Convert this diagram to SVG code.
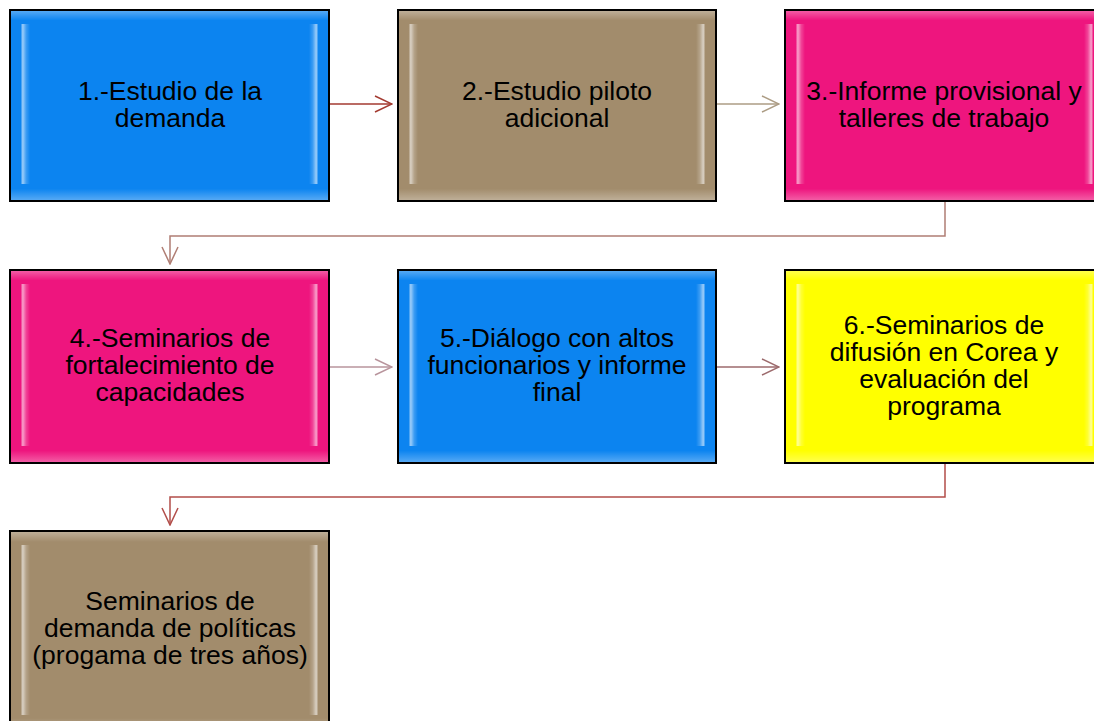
<svg xmlns="http://www.w3.org/2000/svg" width="1094" height="721" viewBox="0 0 1094 721">
<defs>
<style>
.box{stroke:#000;stroke-width:2}
.t{font-family:"Liberation Sans",Arial,sans-serif;font-size:26.5px;fill:#000;text-anchor:middle}
.blue{fill:#0C84F0}
.tan{fill:#A28C6C}
.pink{fill:#EE157E}
.yel{fill:#FFFF00}
.c{fill:none;stroke-width:1.5}
</style>
<linearGradient id="hl" x1="0" y1="0" x2="1" y2="0">
<stop offset="0" stop-color="#fff" stop-opacity="0"/>
<stop offset="0.03" stop-color="#fff" stop-opacity="0"/>
<stop offset="0.037" stop-color="#fff" stop-opacity="0.6"/>
<stop offset="0.048" stop-color="#fff" stop-opacity="0.2"/>
<stop offset="0.06" stop-color="#fff" stop-opacity="0"/>
<stop offset="0.94" stop-color="#fff" stop-opacity="0"/>
<stop offset="0.952" stop-color="#fff" stop-opacity="0.2"/>
<stop offset="0.963" stop-color="#fff" stop-opacity="0.6"/>
<stop offset="0.97" stop-color="#fff" stop-opacity="0"/>
<stop offset="1" stop-color="#fff" stop-opacity="0"/>
</linearGradient>
<linearGradient id="vb" x1="0" y1="0" x2="0" y2="1">
<stop offset="0" stop-color="#fff" stop-opacity="0.3"/>
<stop offset="0.05" stop-color="#fff" stop-opacity="0"/>
<stop offset="0.94" stop-color="#fff" stop-opacity="0"/>
<stop offset="1" stop-color="#fff" stop-opacity="0.3"/>
</linearGradient>
<marker id="ah1" viewBox="0 0 20 20" refX="19" refY="10" markerWidth="20" markerHeight="20" markerUnits="userSpaceOnUse" orient="auto">
<path d="M2,2 L19,10 L2,18" fill="none" stroke="#A33A30" stroke-width="1.5"/>
</marker>
<marker id="ah2" viewBox="0 0 20 20" refX="19" refY="10" markerWidth="20" markerHeight="20" markerUnits="userSpaceOnUse" orient="auto">
<path d="M2,2 L19,10 L2,18" fill="none" stroke="#AC9C84" stroke-width="1.5"/>
</marker>
<marker id="ah3" viewBox="0 0 20 20" refX="19" refY="10" markerWidth="20" markerHeight="20" markerUnits="userSpaceOnUse" orient="auto">
<path d="M2,2 L19,10 L2,18" fill="none" stroke="#B07E74" stroke-width="1.5"/>
</marker>
<marker id="ah4" viewBox="0 0 20 20" refX="19" refY="10" markerWidth="20" markerHeight="20" markerUnits="userSpaceOnUse" orient="auto">
<path d="M2,2 L19,10 L2,18" fill="none" stroke="#B8949C" stroke-width="1.5"/>
</marker>
<marker id="ah5" viewBox="0 0 20 20" refX="19" refY="10" markerWidth="20" markerHeight="20" markerUnits="userSpaceOnUse" orient="auto">
<path d="M2,2 L19,10 L2,18" fill="none" stroke="#9C6A6C" stroke-width="1.5"/>
</marker>
<marker id="ah6" viewBox="0 0 20 20" refX="19" refY="10" markerWidth="20" markerHeight="20" markerUnits="userSpaceOnUse" orient="auto">
<path d="M2,2 L19,10 L2,18" fill="none" stroke="#B24E4A" stroke-width="1.5"/>
</marker>
</defs>
<rect width="1094" height="721" fill="#fff"/>
<g id="connectors">
<line class="c" x1="330" y1="104" x2="392" y2="104" stroke="#A33A30" marker-end="url(#ah1)"/>
<line class="c" x1="717" y1="104" x2="779" y2="104" stroke="#AC9C84" marker-end="url(#ah2)"/>
<polyline class="c" points="945,202 945,236 170,236 170,264" stroke="#B07E74" marker-end="url(#ah3)"/>
<line class="c" x1="330" y1="367" x2="392" y2="367" stroke="#B8949C" marker-end="url(#ah4)"/>
<line class="c" x1="717" y1="367" x2="779" y2="367" stroke="#9C6A6C" marker-end="url(#ah5)"/>
<polyline class="c" points="945,464 945,497 170,497 170,525" stroke="#B24E4A" marker-end="url(#ah6)"/>
</g>
<g id="n1">
<rect class="box blue" x="10" y="10" width="319" height="191"/>
<rect x="11" y="11" width="317" height="189" fill="url(#vb)"/>
<rect x="11" y="24" width="317" height="160" fill="url(#hl)"/>
<text class="t" x="170" y="100">1.-Estudio de la</text>
<text class="t" x="170" y="127">demanda</text>
</g>
<g id="n2">
<rect class="box tan" x="398" y="10" width="318" height="191"/>
<rect x="399" y="11" width="316" height="189" fill="url(#vb)"/>
<rect x="399" y="24" width="316" height="160" fill="url(#hl)"/>
<text class="t" x="557" y="100">2.-Estudio piloto</text>
<text class="t" x="557" y="127">adicional</text>
</g>
<g id="n3">
<rect class="box pink" x="785" y="10" width="319" height="191"/>
<rect x="786" y="11" width="317" height="189" fill="url(#vb)"/>
<rect x="786" y="24" width="317" height="160" fill="url(#hl)"/>
<text class="t" x="944" y="100">3.-Informe provisional y</text>
<text class="t" x="944" y="127">talleres de trabajo</text>
</g>
<g id="n4">
<rect class="box pink" x="10" y="270" width="319" height="193"/>
<rect x="11" y="271" width="317" height="191" fill="url(#vb)"/>
<rect x="11" y="284" width="317" height="162" fill="url(#hl)"/>
<text class="t" x="170" y="347">4.-Seminarios de</text>
<text class="t" x="170" y="374">fortalecimiento de</text>
<text class="t" x="170" y="401">capacidades</text>
</g>
<g id="n5">
<rect class="box blue" x="398" y="270" width="318" height="193"/>
<rect x="399" y="271" width="316" height="191" fill="url(#vb)"/>
<rect x="399" y="284" width="316" height="162" fill="url(#hl)"/>
<text class="t" x="557" y="347">5.-Diálogo con altos</text>
<text class="t" x="557" y="374">funcionarios y informe</text>
<text class="t" x="557" y="401">final</text>
</g>
<g id="n6">
<rect class="box yel" x="785" y="270" width="319" height="193"/>
<rect x="786" y="271" width="317" height="191" fill="url(#vb)"/>
<rect x="786" y="284" width="317" height="162" fill="url(#hl)"/>
<text class="t" x="944" y="334">6.-Seminarios de</text>
<text class="t" x="944" y="361">difusión en Corea y</text>
<text class="t" x="944" y="388">evaluación del</text>
<text class="t" x="944" y="415">programa</text>
</g>
<g id="n7">
<rect class="box tan" x="10" y="531" width="319" height="200"/>
<rect x="11" y="532" width="317" height="198" fill="url(#vb)"/>
<rect x="11" y="545" width="317" height="170" fill="url(#hl)"/>
<text class="t" x="170" y="610">Seminarios de</text>
<text class="t" x="170" y="637">demanda de políticas</text>
<text class="t" x="170" y="664">(progama de tres años)</text>
</g>
</svg>
